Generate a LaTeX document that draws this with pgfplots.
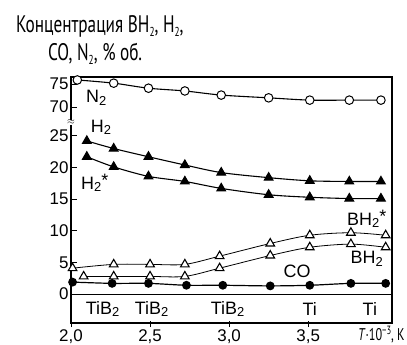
\documentclass[border=0pt]{standalone}
\usepackage{pgfplots}
\pgfplotsset{compat=1.18}
\usepackage{fontspec}
\setmainfont{Liberation Sans}
\newfontfamily\condfont[FakeStretch=0.72]{PT Sans}
\newcommand\sub[1]{\raisebox{-0.35ex}{\fontsize{13}{13}\selectfont #1}}
\newcommand\tsub[1]{\raisebox{-0.25ex}{\fontsize{13}{13}\selectfont #1}}
\begin{document}
\begin{tikzpicture}
\begin{axis}[
  scale only axis,
  width=321bp, height=246bp,
  xmin=2, xmax=4.03,
  ymin=-4.56, ymax=34.3,
  axis line style={line width=1.1pt},
  xtick={2.0,2.5,3.0,3.5},
  ytick={0,5,10,15,20,25,29.56,33.18},
  yticklabels={0,5,10,15,20,25,70,75},
  xtick pos=bottom, ytick pos=left,
  tick align=inside,
  major tick length=6bp,
  tick style={line width=0.9pt, black},
  xtick style={yshift=-4bp},
  x tick label style={/pgf/number format/use comma, /pgf/number format/fixed, /pgf/number format/fixed zerofill, /pgf/number format/precision=1, yshift=-3bp},
  /pgf/number format/assume math mode=true,
  ticklabel style={font=\fontsize{17}{17}\selectfont},
  y tick label style={xshift=1bp},
  clip=false,
]
% N2 (upper, broken scale)
\addplot[line width=1.1pt, smooth, tension=0.5, mark=*, mark size=4.3pt, mark options={fill=white, line width=1pt}]
  table[x=x, y expr={29.56+(\thisrow{y}-70)*0.724}] {
x y
2.04 75.9
2.27 75.2
2.49 74.1
2.72 73.5
2.95 72.6
3.25 72.0
3.51 71.5
3.76 71.5
3.96 71.5
};
% H2
\addplot[line width=1.1pt, smooth, tension=0.5, mark=triangle*, mark size=5pt, mark options={fill=black}]
  table {
2.10 24.2
2.27 23.0
2.49 21.7
2.72 20.4
2.95 19.2
3.25 18.4
3.51 17.9
3.76 17.8
3.96 17.8
};
% H2*
\addplot[line width=1.1pt, smooth, tension=0.5, mark=triangle*, mark size=5pt, mark options={fill=black}]
  table {
2.10 21.7
2.27 20.1
2.49 18.6
2.72 17.8
2.95 16.7
3.25 15.7
3.51 15.3
3.76 15.1
3.96 15.1
};
% BH2*
\addplot[line width=0.8pt, smooth, tension=0.5, mark=triangle*, mark size=5pt, mark options={fill=white, line width=1.1pt}]
  table {
2.01 4.1
2.27 4.7
2.50 4.7
2.72 4.7
2.94 6.0
3.26 8.0
3.51 9.3
3.77 9.7
3.99 9.3
};
% BH2
\addplot[line width=0.8pt, smooth, tension=0.5, mark=triangle*, mark size=5pt, mark options={fill=white, line width=1.1pt}]
  table {
2.08 2.8
2.27 2.8
2.50 2.8
2.72 2.8
2.94 4.1
3.26 6.1
3.51 7.4
3.77 7.9
3.99 7.4
};
% CO
\addplot[line width=1.2pt, smooth, tension=0.5, mark=*, mark size=3.8pt]
  table {
2.01 1.9
2.26 1.7
2.49 1.7
2.73 1.4
2.96 1.4
3.26 1.3
3.51 1.4
3.77 1.7
3.99 1.7
};
% zero line
\draw[line width=0.8pt] (axis cs:2,0) -- (axis cs:4.03,0);
% axis break mark
\node[fill=white, inner sep=0pt, font=\fontsize{10}{10}\selectfont] at (axis cs:2.0,27.1) {$\approx$};
% curve labels
\begin{scope}[every node/.style={font=\fontsize{18}{18}\selectfont, inner sep=0pt}]
\node at (axis cs:2.16,31.0) {N\tsub{2}};
\node at (axis cs:2.19,26.3) {H\tsub{2}};
\node at (axis cs:2.15,17.6) {H\tsub{2}\raisebox{0.3ex}{*}};
\node at (axis cs:3.87,11.9) {BH\tsub{2}\raisebox{0.3ex}{*}};
\node at (axis cs:3.87,5.6) {BH\tsub{2}};
\node at (axis cs:3.43,3.6) {CO};
\node at (axis cs:2.20,-2.3) {TiB\tsub{2}};
\node at (axis cs:2.51,-2.3) {TiB\tsub{2}};
\node at (axis cs:2.99,-2.3) {TiB\tsub{2}};
\node at (axis cs:3.51,-2.3) {Ti};
\node at (axis cs:3.89,-2.3) {Ti};
\end{scope}
% titles
\node[font=\condfont\fontsize{24}{24}\selectfont] at (axis description cs:0.09,1.205) {Концентрация BH\sub{2}, H\sub{2},};
\node[font=\condfont\fontsize{24}{24}\selectfont] at (axis description cs:0.075,1.095) {CO, N\sub{2}, \% об.};
\node[font=\condfont\fontsize{17}{17}\selectfont, anchor=east, inner sep=0pt] at (axis description cs:1.04,-0.046) {\textit{T}·10\raisebox{0.7ex}{\fontsize{12}{12}\selectfont −3}, K};
\end{axis}
\pgfresetboundingbox
\path (-71bp,-22bp) rectangle (336bp,323bp);
\end{tikzpicture}
\end{document}
